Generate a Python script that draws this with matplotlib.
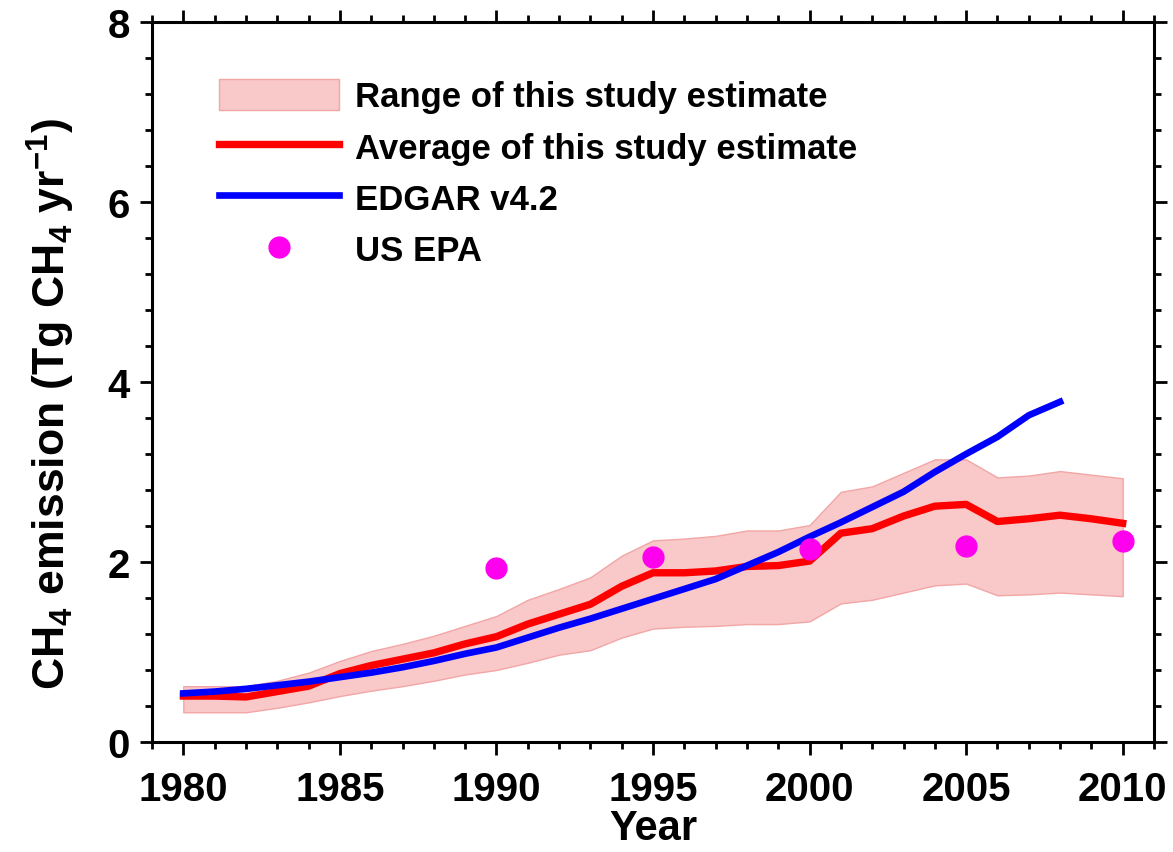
import matplotlib
matplotlib.use('Agg')
import matplotlib.pyplot as plt
from matplotlib.ticker import MultipleLocator
from matplotlib.patches import Patch
from matplotlib.lines import Line2D

# Fonts: bold Arial-like everywhere, mathtext for the sub/superscripts
plt.rcParams['font.family'] = ['Liberation Sans', 'DejaVu Sans']
plt.rcParams['font.weight'] = 'bold'
plt.rcParams['mathtext.fontset'] = 'custom'
plt.rcParams['mathtext.rm'] = 'Liberation Sans:bold'
plt.rcParams['mathtext.bf'] = 'Liberation Sans:bold'
plt.rcParams['mathtext.default'] = 'bf'

# Data
years = list(range(1980, 2011))
avg = [0.51, 0.51, 0.50, 0.56, 0.62, 0.76, 0.85, 0.92, 0.99, 1.09,
       1.17, 1.31, 1.42, 1.53, 1.73, 1.88, 1.88, 1.90, 1.95, 1.96,
       2.01, 2.32, 2.37, 2.51, 2.62, 2.64, 2.45, 2.48, 2.52, 2.48, 2.43]
upper = [0.62, 0.62, 0.62, 0.68, 0.77, 0.90, 1.01, 1.09, 1.18, 1.29,
         1.40, 1.58, 1.70, 1.83, 2.07, 2.24, 2.26, 2.29, 2.35, 2.35,
         2.41, 2.78, 2.84, 2.99, 3.14, 3.14, 2.94, 2.96, 3.01, 2.97, 2.93]
lower = [0.33, 0.33, 0.33, 0.38, 0.44, 0.51, 0.57, 0.62, 0.68, 0.75,
         0.80, 0.88, 0.97, 1.02, 1.16, 1.26, 1.28, 1.29, 1.31, 1.31,
         1.34, 1.54, 1.58, 1.66, 1.74, 1.76, 1.63, 1.64, 1.66, 1.64, 1.62]

edgar_years = list(range(1980, 2009))
edgar = [0.54, 0.56, 0.59, 0.63, 0.67, 0.72, 0.77, 0.83, 0.90, 0.98,
         1.05, 1.16, 1.27, 1.37, 1.48, 1.59, 1.70, 1.81, 1.96, 2.11,
         2.28, 2.44, 2.61, 2.78, 3.00, 3.20, 3.39, 3.63, 3.78]

epa_years = [1990, 1995, 2000, 2005, 2010]
epa = [1.93, 2.05, 2.14, 2.18, 2.23]

band_color = '#f9c8c8'
band_edge = '#f2a6a6'

fig = plt.figure(figsize=(11.73, 8.53), dpi=100)
ax = fig.add_axes([0.1296, 0.129, 0.8542, 0.844])

# Range band, average, EDGAR and EPA points
ax.fill_between(years, lower, upper, facecolor=band_color,
                edgecolor=band_edge, linewidth=1.0, zorder=1)
ax.plot(years, avg, color='#ff0000', linewidth=5.3, zorder=2)
ax.plot(edgar_years, edgar, color='#0000ff', linewidth=4.8, zorder=3)
ax.plot(epa_years, epa, linestyle='none', marker='o', markersize=15,
        color='#ff00ee', zorder=4)

ax.set_xlim(1979, 2011)
ax.set_ylim(0, 8)

# Ticks on all four sides, pointing outward
ax.xaxis.set_major_locator(MultipleLocator(5))
ax.xaxis.set_minor_locator(MultipleLocator(1))
ax.yaxis.set_major_locator(MultipleLocator(2))
ax.yaxis.set_minor_locator(MultipleLocator(0.4))
ax.tick_params(which='both', direction='out', top=True, right=True,
               labeltop=False, labelright=False, width=2.0)
ax.tick_params(which='major', length=9, labelsize=29)
ax.tick_params(axis='x', which='major', pad=11)
ax.tick_params(axis='y', which='major', pad=7)
ax.tick_params(which='minor', length=5)
for lab in ax.get_xticklabels() + ax.get_yticklabels():
    lab.set_fontweight('bold')
for sp in ax.spines.values():
    sp.set_linewidth(2.2)

ax.set_xlabel('Year', fontsize=30, fontweight='bold', labelpad=0)
ax.set_ylabel(r'CH$_4$ emission (Tg CH$_4$ yr$^{-1}$)', fontsize=32,
              fontweight='bold', labelpad=22)
# label sits a little below the axis middle in the original
ax.yaxis.label.set_y(0.471)

# Legend
handles = [Patch(facecolor=band_color, edgecolor=band_edge, linewidth=1.0),
           Line2D([], [], color='#ff0000', linewidth=5.3),
           Line2D([], [], color='#0000ff', linewidth=4.8),
           Line2D([], [], linestyle='none', marker='o', markersize=15,
                  color='#ff00ee')]
labels = ['Range of this study estimate', 'Average of this study estimate',
          'EDGAR v4.2', 'US EPA']
leg = ax.legend(handles, labels, loc='upper left',
                bbox_to_anchor=(0.043, 0.955), frameon=False,
                prop={'size': 25, 'weight': 'bold'}, handlelength=3.45,
                handleheight=1.0, handletextpad=0.45, labelspacing=0.49,
                borderpad=0.2)

fig.savefig('out.png', dpi=100)
